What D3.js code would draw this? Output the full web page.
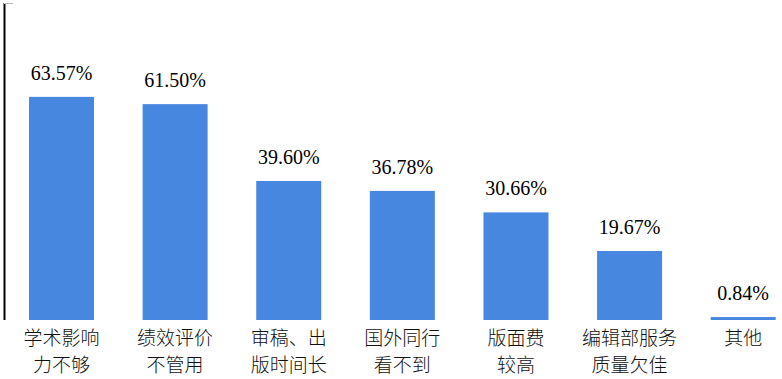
<!DOCTYPE html>
<html><head><meta charset="utf-8">
<script src="https://cdn.jsdelivr.net/npm/d3@7"></script>
<style>html,body{margin:0;padding:0;background:#fff;}
.val{font-family:"Liberation Serif","Times New Roman",serif;}
.cat{font-family:"Noto Sans CJK SC","Noto Sans CJK JP",sans-serif;}
</style>
</head><body>
<svg id="chart" width="782" height="379"></svg>
<script>
const categories = ["学术影响力不够","绩效评价不管用","审稿、出版时间长","国外同行看不到","版面费较高","编辑部服务质量欠佳","其他"];
const labelLine1 = ["学术影响","绩效评价","审稿、出","国外同行","版面费","编辑部服务","其他"];
const labelLine2 = ["力不够","不管用","版时间长","看不到","较高","质量欠佳",""];
const values = [63.57, 61.50, 39.60, 36.78, 30.66, 19.67, 0.84];
const valueLabels = ["63.57%","61.50%","39.60%","36.78%","30.66%","19.67%","0.84%"];

const svg = d3.select("#chart");
const baseY = 320, topY = 3;
const x = d3.scaleBand().domain(categories).range([4.7, 800]).paddingInner(0.428).paddingOuter(0.214);
const y = d3.scaleLinear().domain([0, 100]).range([baseY, baseY - 351]);

svg.selectAll("rect.bar").data(values).join("rect")
  .attr("class","bar")
  .attr("x",(d,i)=>x(categories[i]))
  .attr("width",x.bandwidth())
  .attr("y",d=>y(d))
  .attr("height",d=>baseY - y(d))
  .attr("fill","#4787e0");

svg.selectAll("text.val").data(values).join("text")
  .attr("class","val")
  .attr("x",(d,i)=>x(categories[i])+x.bandwidth()/2)
  .attr("y",d=>y(d)-17)
  .attr("text-anchor","middle")
  .attr("font-size",20)
  .attr("fill","#000")
  .text((d,i)=>valueLabels[i]);

const cat = svg.selectAll("text.cat").data(categories).join("text")
  .attr("class","cat")
  .attr("text-anchor","middle")
  .attr("font-size",19)
  .attr("font-weight",300)
  .attr("fill","#111");
cat.append("tspan").attr("x",(d)=>x(d)+x.bandwidth()/2).attr("y",345).text((d,i)=>labelLine1[i]);
cat.append("tspan").attr("x",(d)=>x(d)+x.bandwidth()/2).attr("y",372).text((d,i)=>labelLine2[i]);

// left axis line
svg.append("line").attr("x1",4.5).attr("x2",4.5).attr("y1",topY).attr("y2",baseY)
  .attr("stroke","#000").attr("stroke-width",2);
svg.append("line").attr("x1",4).attr("x2",13).attr("y1",3.5).attr("y2",3.5)
  .attr("stroke","#bbb").attr("stroke-width",1);
</script>
</body></html>
